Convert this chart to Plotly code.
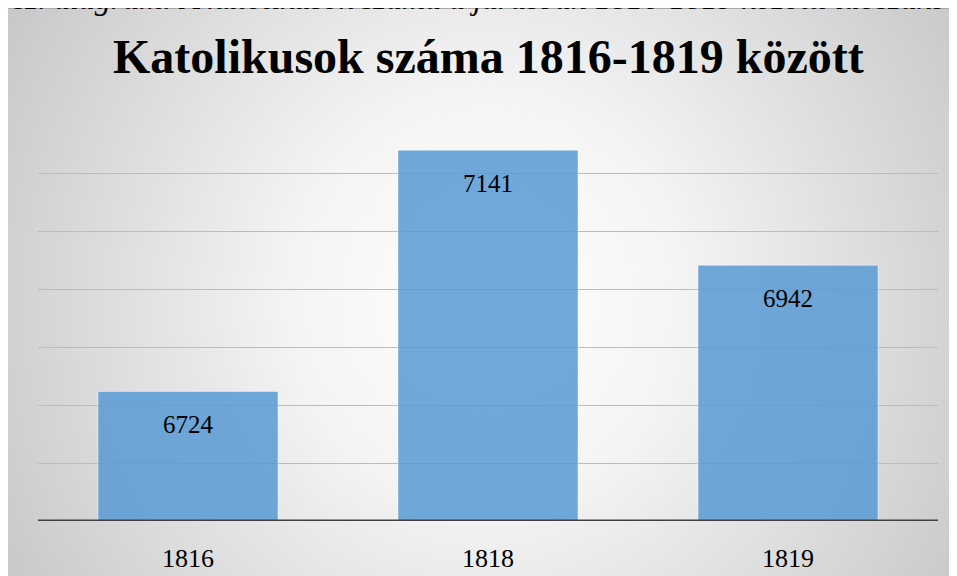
import base64
import plotly.graph_objects as go

years = ["1816", "1818", "1819"]
catholics = [6724, 7141, 6942]
title_text = "Katolikusok száma 1816-1819 között"
caption_text = "9. sz. diagram: A katolikusok száma a járásban 1816-1819 közötti időszakban"

SERIF = "Liberation Serif"

# page has an 8px body margin; figure coordinates below are page pixels minus 8
OFF = 8
W, H = 957, 576
ML, MT = 38 - OFF, 116 - OFF
PR, PB = 938 - OFF, 521 - OFF
MR, MB = W - PR, H - PB
PW, PH = PR - ML, PB - MT

def px_x(p):
    return (p - OFF - ML) / PW

def px_y(p):
    return 1 - (p - OFF - MT) / PH

svg = """<svg xmlns='http://www.w3.org/2000/svg' width='960' height='580' viewBox='0 0 960 580' preserveAspectRatio='none'>
<defs><radialGradient id='g' gradientUnits='userSpaceOnUse' cx='480' cy='290' r='650' gradientTransform='translate(480 290) scale(1 1.05) translate(-480 -290)'>
<stop offset='0' stop-color='#ffffff'/><stop offset='0.3' stop-color='#f4f4f4'/><stop offset='1' stop-color='#bcbcbc'/></radialGradient></defs>
<rect x='0' y='0' width='960' height='580' fill='url(#g)'/>
<line x1='0.5' y1='0' x2='0.5' y2='580' stroke='#a8a8a8' stroke-width='1'/>
<line x1='0' y1='0.5' x2='960' y2='0.5' stroke='#a8a8a8' stroke-width='1'/>
</svg>"""
uri = "data:image/svg+xml;base64," + base64.b64encode(svg.encode()).decode()

xpos = list(range(len(years)))

fig = go.Figure()
fig.add_trace(go.Bar(
    x=xpos, y=catholics,
    marker=dict(color="rgba(91,155,213,0.87)", line=dict(color="rgba(255,255,255,0.45)", width=1)),
    width=0.6, hoverinfo="skip",
))

for xi, v in zip(xpos, catholics):
    fig.add_annotation(x=xi, y=v, xref="x", yref="y", text=str(v), showarrow=False,
                       yanchor="top", yshift=-18,
                       font=dict(family=SERIF, size=25, color="#000000"))

fig.add_annotation(x=px_x(480), y=px_y(18), xref="paper", yref="paper", text="<i>" + caption_text + "</i>",
                   showarrow=False, yanchor="bottom", xanchor="center",
                   font=dict(family=SERIF, size=32, color="#000000"))

fig.add_annotation(x=px_x(488), y=px_y(57), xref="paper", yref="paper", text="<b>" + title_text + "</b>",
                   showarrow=False, yanchor="middle", xanchor="center",
                   font=dict(family=SERIF, size=48, color="#000000"))

fig.add_layout_image(dict(source=uri, xref="paper", yref="paper",
                          x=px_x(7), y=px_y(8), sizex=960 / PW, sizey=580 / PH,
                          xanchor="left", yanchor="top", sizing="stretch", layer="below"))

fig.update_layout(
    width=W, height=H,
    margin=dict(l=ML, r=MR, t=MT, b=MB, pad=0),
    paper_bgcolor="#ffffff",
    plot_bgcolor="rgba(0,0,0,0)",
    showlegend=False,
    xaxis=dict(range=[-0.5, 2.5], tickvals=xpos, ticktext=years,
               showgrid=False, zeroline=False, showline=False,
               ticks="outside", ticklen=14, tickcolor="rgba(0,0,0,0)",
               tickfont=dict(family=SERIF, size=26, color="#000000")),
    yaxis=dict(range=[6500, 7200], dtick=100, showticklabels=False, showgrid=True,
               gridcolor="#bcbcbc", gridwidth=1, zeroline=False, showline=False, ticks=""),
)

fig.add_shape(type="line", xref="paper", yref="y", x0=0, x1=1, y0=6500, y1=6500,
              line=dict(color="#404040", width=3), layer="above")

fig.write_html("out.html")
